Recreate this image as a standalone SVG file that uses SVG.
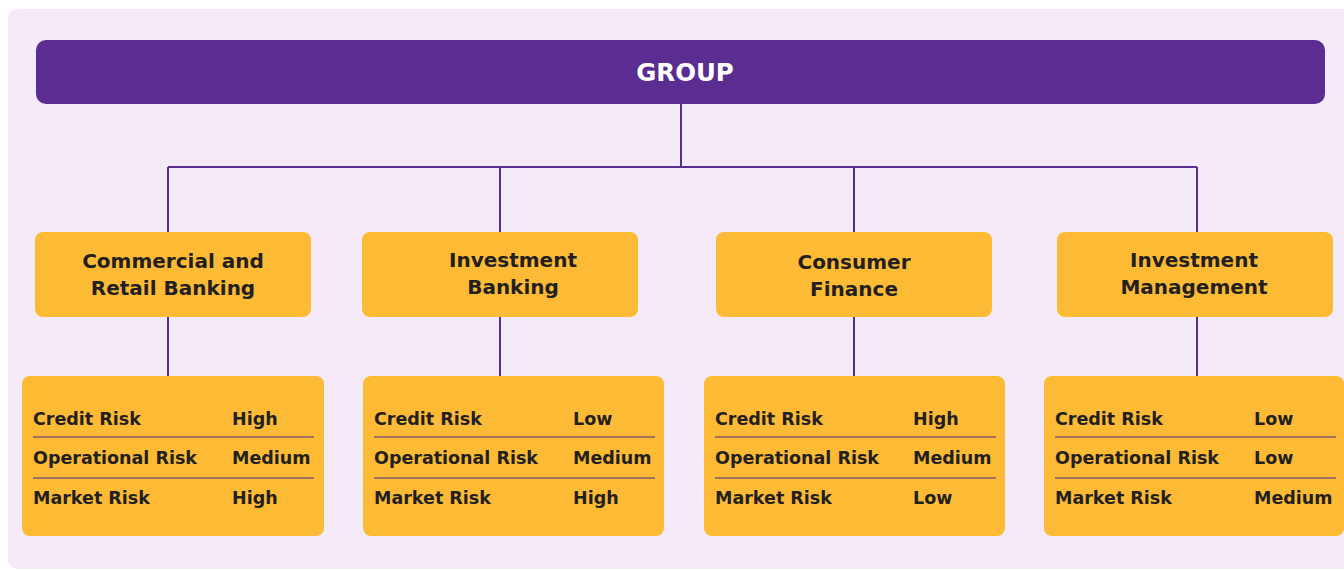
<svg xmlns="http://www.w3.org/2000/svg" width="1344" height="570" viewBox="0 0 1344 570">
<style>
.bg{fill:#f5eaf7}
.grp{fill:#5b2d90}
.box{fill:#fdbb35}
.ln{stroke:#5b2d90;stroke-width:2;fill:none}
.sep{stroke:#4a2a8a;stroke-width:1.2}
.t{font-family:"DejaVu Sans","Noto Sans",sans-serif;font-weight:700;fill:#231f20}
.h{font-size:20px;text-anchor:middle}
.r{font-size:17.5px}
.g{font-family:"DejaVu Sans","Noto Sans",sans-serif;font-weight:700;font-size:24.5px;fill:#ffffff;text-anchor:middle}
</style>
<rect class="bg" x="8" y="9" width="1350" height="560" rx="9"/>
<g id="connectors">
<path class="ln" d="M681 104V167M168 167H1197M168 167V232M500 167V232M854 167V232M1197 167V232"/>
<path class="ln" d="M168 317V376M500 317V376M854 317V376M1197 317V376"/>
</g>
<g id="group">
<rect class="grp" x="36" y="40" width="1289" height="64" rx="10"/>
<text class="g" x="685" y="81">GROUP</text>
</g>
<g id="crb">
<rect class="box" x="35" y="232" width="276" height="85" rx="8"/>
<text class="t h" x="173" y="268">Commercial and</text>
<text class="t h" x="173" y="295">Retail Banking</text>
</g>
<g id="ib">
<rect class="box" x="362" y="232" width="276" height="85" rx="8"/>
<text class="t h" x="513" y="267">Investment</text>
<text class="t h" x="513" y="294">Banking</text>
</g>
<g id="cf">
<rect class="box" x="716" y="232" width="276" height="85" rx="8"/>
<text class="t h" x="854" y="269">Consumer</text>
<text class="t h" x="854" y="296">Finance</text>
</g>
<g id="im">
<rect class="box" x="1057" y="232" width="276" height="85" rx="8"/>
<text class="t h" x="1194" y="267">Investment</text>
<text class="t h" x="1194" y="294">Management</text>
</g>
<g id="crb-risk">
<rect class="box" x="22" y="376" width="302" height="160" rx="8"/>
<line class="sep" x1="33" y1="437" x2="314" y2="437"/>
<line class="sep" x1="33" y1="478" x2="314" y2="478"/>
<text class="t r" x="33" y="425">Credit Risk</text><text class="t r" x="232" y="425">High</text>
<text class="t r" x="33" y="464">Operational Risk</text><text class="t r" x="232" y="464">Medium</text>
<text class="t r" x="33" y="504">Market Risk</text><text class="t r" x="232" y="504">High</text>
</g>
<g id="ib-risk">
<rect class="box" x="363" y="376" width="301" height="160" rx="8"/>
<line class="sep" x1="374" y1="437" x2="655" y2="437"/>
<line class="sep" x1="374" y1="478" x2="655" y2="478"/>
<text class="t r" x="374" y="425">Credit Risk</text><text class="t r" x="573" y="425">Low</text>
<text class="t r" x="374" y="464">Operational Risk</text><text class="t r" x="573" y="464">Medium</text>
<text class="t r" x="374" y="504">Market Risk</text><text class="t r" x="573" y="504">High</text>
</g>
<g id="cf-risk">
<rect class="box" x="704" y="376" width="301" height="160" rx="8"/>
<line class="sep" x1="715" y1="437" x2="996" y2="437"/>
<line class="sep" x1="715" y1="478" x2="996" y2="478"/>
<text class="t r" x="715" y="425">Credit Risk</text><text class="t r" x="913" y="425">High</text>
<text class="t r" x="715" y="464">Operational Risk</text><text class="t r" x="913" y="464">Medium</text>
<text class="t r" x="715" y="504">Market Risk</text><text class="t r" x="913" y="504">Low</text>
</g>
<g id="im-risk">
<rect class="box" x="1044" y="376" width="300" height="160" rx="8"/>
<line class="sep" x1="1055" y1="437" x2="1336" y2="437"/>
<line class="sep" x1="1055" y1="478" x2="1336" y2="478"/>
<text class="t r" x="1055" y="425">Credit Risk</text><text class="t r" x="1254" y="425">Low</text>
<text class="t r" x="1055" y="464">Operational Risk</text><text class="t r" x="1254" y="464">Low</text>
<text class="t r" x="1055" y="504">Market Risk</text><text class="t r" x="1254" y="504">Medium</text>
</g>
</svg>
